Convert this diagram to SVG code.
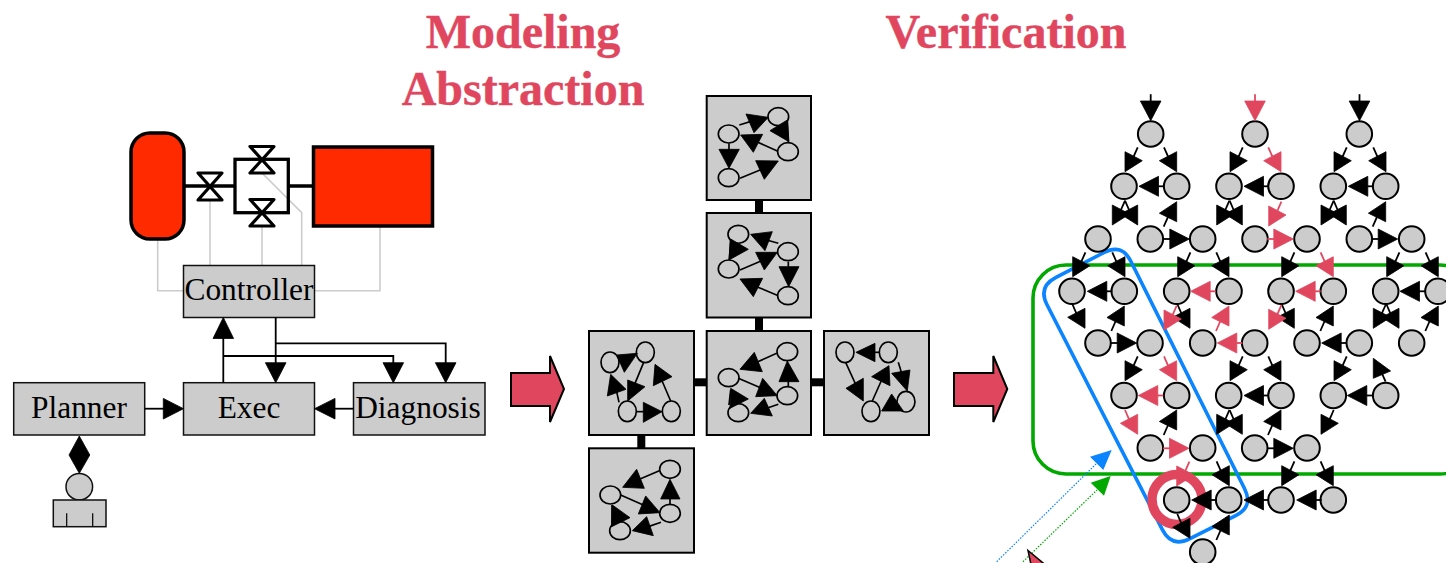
<svg xmlns="http://www.w3.org/2000/svg" width="1446" height="563" viewBox="0 0 1446 563">
<style>
text{font-family:"Liberation Serif","Times New Roman",serif;fill:#000}
.title{font-size:48px;font-weight:bold;fill:#e0475f;stroke:#e0475f;stroke-width:.4;text-anchor:middle}
.lbl{font-size:31.4px;text-anchor:middle}
.box{fill:#ccc;stroke:#111;stroke-width:1.5}
.wire{fill:none;stroke:#000;stroke-width:1.8}
.ctl{fill:none;stroke:#ccc;stroke-width:1.6}
.pipe{fill:none;stroke:#000;stroke-width:3.3}
.valve{fill:#fff;stroke:#000;stroke-width:3.2;stroke-linejoin:round}
.red{fill:#ff2a00;stroke:#000;stroke-width:3.5}
.head{fill:#000;stroke:#000;stroke-width:.8;stroke-linejoin:round}
.mod{fill:#ccc;stroke:#000;stroke-width:2}
.link{fill:#000;stroke:none}
.big{fill:#e0475f;stroke:#000;stroke-width:2;stroke-linejoin:miter}
.sg ellipse{fill:#ccc;stroke:#000;stroke-width:5}
.sg polygon{fill:#000;stroke:#000;stroke-width:2.5;stroke-linejoin:round}
.sg line{stroke:#000;stroke-width:5}
.n{fill:#ccc;stroke:#000;stroke-width:2}
.e{color:#000}
.r{color:#e0475f}
defs polygon{stroke:currentColor;stroke-width:.8;stroke-linejoin:round}
</style>
<defs>
<g id="dl"><line x1="8.6" y1="-15" x2="12.7" y2="-24.3" stroke="currentColor" stroke-width="1.8"/><polygon points="0,0 0,-20 17.3,-11" fill="currentColor"/></g>
<g id="dr"><line x1="-8.6" y1="-15" x2="-12.7" y2="-24.3" stroke="currentColor" stroke-width="1.8"/><polygon points="0,0 0,-20 -17.3,-11" fill="currentColor"/></g>
<g id="ur"><line x1="-8.6" y1="15" x2="-13" y2="25" stroke="currentColor" stroke-width="1.8"/><polygon points="0,0 0,20 -17.3,11.5" fill="currentColor"/></g>
<g id="ul"><line x1="8.6" y1="15" x2="12.3" y2="23.3" stroke="currentColor" stroke-width="1.8"/><polygon points="0,0 0,20 17.3,12.7" fill="currentColor"/></g>
<g id="le"><line x1="19" y1="0" x2="25" y2="0" stroke="currentColor" stroke-width="1.8"/><polygon points="0,0 19.5,-10 19.5,10" fill="currentColor"/></g>
<g id="ri"><line x1="-19" y1="0" x2="-26" y2="0" stroke="currentColor" stroke-width="1.8"/><polygon points="0,0 -19.5,-10 -19.5,10" fill="currentColor"/></g>
<g id="do"><line x1="0" y1="-19" x2="0" y2="-26.5" stroke="currentColor" stroke-width="1.8"/><polygon points="0,0 -10.3,-19.7 10.3,-19.7" fill="currentColor"/></g>
</defs>

<text class="title" x="523" y="48">Modeling</text>
<text class="title" x="523" y="105">Abstraction</text>
<text class="title" x="1006" y="48">Verification</text>

<g id="plant-wires">
<path class="ctl" d="M157.7,239V290.7H184"/>
<path class="ctl" d="M210,200V265"/>
<path class="ctl" d="M262,226V265"/>
<path class="ctl" d="M262,173L301.7,212.7V265"/>
<path class="ctl" d="M380,226V290.7H314"/>
<path class="pipe" d="M184,186H235M288.3,186H313"/>
</g>
<g id="pipe-loop"><rect class="pipe" x="235" y="159.3" width="53.3" height="53.4"/></g>
<g id="tank"><rect class="red" x="131" y="133" width="53" height="106" rx="19"/></g>
<g id="engine"><rect class="red" x="313.5" y="147" width="119" height="79"/></g>
<g id="valve1"><polygon class="valve" points="198,173 222,173 198,200 222,200"/></g>
<g id="valve2"><polygon class="valve" points="250,146.5 274,146.5 250,173 274,173"/></g>
<g id="valve3"><polygon class="valve" points="250,199.5 274,199.5 250,226 274,226"/></g>

<g id="controller"><rect class="box" x="183.5" y="265.5" width="131" height="52"/><text class="lbl" x="249" y="300">Controller</text></g>
<g id="exec"><rect class="box" x="183.5" y="382.7" width="131" height="52.3"/><text class="lbl" x="249" y="417.5">Exec</text></g>
<g id="planner"><rect class="box" x="13.7" y="382.7" width="131" height="52.3"/><text class="lbl" x="79" y="417.5">Planner</text></g>
<g id="diagnosis"><rect class="box" x="353.5" y="382.7" width="131.5" height="52.3"/><text class="lbl" x="418" y="417.5">Diagnosis</text></g>
<g id="operator">
<circle class="box" cx="79.3" cy="486.7" r="13.3"/>
<rect class="box" x="53.3" y="500" width="52.7" height="26.7"/>
<path class="wire" d="M66.7,513.3V526.7M92.7,513.3V526.7" style="stroke-width:1.2"/>
</g>

<g id="plant-connectors">
<path class="wire" d="M223.3,382.7V336"/><polygon class="head" points="223.3,317.5 213,338.5 233.6,338.5"/>
<path class="wire" d="M275.7,317.5V365"/><polygon class="head" points="275.7,382.7 265.4,362.7 286,362.7"/>
<path class="wire" d="M223.3,356H393.3V365"/><polygon class="head" points="393.3,382.7 383,362.7 403.6,362.7"/>
<path class="wire" d="M275.7,343.3H445.7V365"/><polygon class="head" points="445.7,382.7 435.4,362.7 456,362.7"/>
<path class="wire" d="M144.7,408.7H165"/><polygon class="head" points="183.5,408.7 163.3,398.4 163.3,419"/>
<path class="wire" d="M353.5,408.7H333"/><polygon class="head" points="314.5,408.7 335,398.4 335,419"/>
<polygon class="head" points="79.3,436 89.8,455 79.3,473.3 69,455"/>
</g>

<g id="big-arrow-1"><polygon class="big" points="511,373 550,373 550,356 564,389 550,422 550,406 511,406"/></g>
<g id="big-arrow-2"><polygon class="big" points="954,373 993.3,373 993.3,356 1007.3,389 993.3,422 993.3,406 954,406"/></g>

<g id="module-links">
<rect class="link" x="755" y="200" width="8" height="13"/>
<rect class="link" x="755" y="317" width="8" height="14"/>
<rect class="link" x="694" y="378.3" width="13" height="8"/>
<rect class="link" x="811" y="378.3" width="13" height="8"/>
<rect class="link" x="637.3" y="435" width="8" height="13"/>
</g>

<g id="module-top"><rect class="mod" x="706.7" y="96" width="104.3" height="104"/>
<g class="sg" transform="translate(580,90) scale(.3333)">
<line x1="478" y1="105" x2="520" y2="92"/><line x1="622" y1="92" x2="625" y2="158"/><line x1="530" y1="155" x2="592" y2="183"/><line x1="447" y1="160" x2="447" y2="185"/><line x1="480" y1="265" x2="560" y2="232"/>
<ellipse cx="446" cy="132" rx="31" ry="27"/><ellipse cx="595" cy="80" rx="31" ry="27"/><ellipse cx="624" cy="185" rx="31" ry="27"/><ellipse cx="446" cy="263" rx="31" ry="27"/>
<polygon points="565,82 498,72 522,128"/><polygon points="622,90 570,122 627,155"/><polygon points="520,187 482,135 548,133"/><polygon points="447,235 417,178 478,178"/><polygon points="595,213 527,212 553,268"/>
</g></g>

<g id="module-upper"><rect class="mod" x="706.7" y="213" width="104.3" height="104.5"/>
<g class="sg" transform="translate(580,90) scale(.3333)">
<line x1="595" y1="460" x2="560" y2="450"/><line x1="448" y1="510" x2="452" y2="447"/><line x1="480" y1="540" x2="545" y2="512"/><line x1="625" y1="515" x2="625" y2="535"/><line x1="595" y1="617" x2="530" y2="590"/>
<ellipse cx="475" cy="433" rx="31" ry="27"/><ellipse cx="624" cy="485" rx="31" ry="27"/><ellipse cx="446" cy="537" rx="31" ry="27"/><ellipse cx="624" cy="617" rx="31" ry="27"/>
<polygon points="512,433 577,425 555,482"/><polygon points="452,447 505,478 447,510"/><polygon points="592,487 527,487 553,540"/><polygon points="626,590 597,530 657,530"/><polygon points="480,567 548,565 520,620"/>
</g></g>

<g id="module-left"><rect class="mod" x="589" y="331" width="105" height="104"/>
<g class="sg" transform="translate(580,325) scale(.3333)">
<line x1="117" y1="232" x2="110" y2="200"/><line x1="192" y1="110" x2="165" y2="175"/><line x1="170" y1="260" x2="195" y2="260"/><line x1="272" y1="228" x2="245" y2="165"/>
<ellipse cx="90" cy="112" rx="27" ry="31"/><ellipse cx="196" cy="82" rx="27" ry="31"/><ellipse cx="142" cy="259" rx="27" ry="31"/><ellipse cx="274" cy="259" rx="27" ry="31"/>
<polygon points="110,90 172,85 133,142"/><polygon points="92,148 82,213 138,193"/><polygon points="143,165 195,185 143,228"/><polygon points="246,260 190,232 190,292"/><polygon points="225,118 220,182 276,155"/>
</g></g>

<g id="module-center"><rect class="mod" x="706.7" y="331" width="104.3" height="104"/>
<g class="sg" transform="translate(580,325) scale(.3333)">
<line x1="590" y1="85" x2="530" y2="112"/><line x1="625" y1="185" x2="625" y2="165"/><line x1="475" y1="160" x2="545" y2="190"/><line x1="595" y1="238" x2="560" y2="250"/><line x1="447" y1="240" x2="452" y2="195"/>
<ellipse cx="446" cy="158" rx="31" ry="27"/><ellipse cx="622" cy="80" rx="31" ry="27"/><ellipse cx="622" cy="212" rx="31" ry="27"/><ellipse cx="475" cy="263" rx="31" ry="27"/>
<polygon points="480,133 523,82 547,140"/><polygon points="622,108 597,170 657,170"/><polygon points="592,212 548,160 527,215"/><polygon points="512,265 577,273 553,220"/><polygon points="452,190 505,222 450,250"/>
</g></g>

<g id="module-right"><rect class="mod" x="824" y="331" width="105" height="104"/>
<g class="sg" transform="translate(580,325) scale(.3333)">
<line x1="900" y1="82" x2="880" y2="82"/><line x1="797" y1="112" x2="828" y2="180"/><line x1="877" y1="228" x2="905" y2="165"/><line x1="955" y1="112" x2="965" y2="145"/>
<ellipse cx="795" cy="82" rx="27" ry="31"/><ellipse cx="925" cy="82" rx="27" ry="31"/><ellipse cx="978" cy="230" rx="27" ry="31"/><ellipse cx="873" cy="259" rx="27" ry="31"/>
<polygon points="828,82 885,55 885,110"/><polygon points="850,228 798,190 850,160"/><polygon points="927,122 875,155 930,182"/><polygon points="982,198 935,145 990,135"/><polygon points="905,258 935,207 970,258"/>
</g></g>

<g id="module-bottom"><rect class="mod" x="589" y="448.3" width="105" height="104.4"/>
<g class="sg" transform="translate(580,325) scale(.3333)">
<line x1="238" y1="437" x2="180" y2="462"/><line x1="270" y1="540" x2="270" y2="515"/><line x1="122" y1="510" x2="190" y2="540"/><line x1="243" y1="592" x2="205" y2="605"/><line x1="96" y1="540" x2="96" y2="600"/>
<ellipse cx="91" cy="510" rx="31" ry="27"/><ellipse cx="270" cy="433" rx="31" ry="27"/><ellipse cx="270" cy="565" rx="31" ry="27"/><ellipse cx="120" cy="617" rx="31" ry="27"/>
<polygon points="128,487 170,433 193,490"/><polygon points="270,463 242,522 300,522"/><polygon points="240,563 197,513 175,567"/><polygon points="157,617 220,632 200,575"/><polygon points="97,540 150,578 95,605"/>
</g></g>

<g id="region-green"><rect x="1033" y="265" width="440" height="209" rx="33" fill="none" stroke="#00a800" stroke-width="3.6"/></g>
<g id="region-blue"><path d="M1104.1,252.5Q1121.8,243.3 1130.8,261.2L1244.6,488.8Q1253.6,506.7 1235.7,515.6L1189.5,538.8Q1171.6,547.7 1162.5,529.9L1047,304.7Q1037.9,286.9 1055.6,277.7Z" fill="none" stroke="#0a84ff" stroke-width="3.6"/></g>
<g id="focus-ring"><circle cx="1177" cy="499.5" r="25" fill="none" stroke="#e0475f" stroke-width="9.5"/></g>

<g id="s0"><circle class="n" cx="1150.7" cy="134" r="12.8"/></g>
<g id="s1"><circle class="n" cx="1255" cy="134" r="12.8"/></g>
<g id="s2"><circle class="n" cx="1359.3" cy="134" r="12.8"/></g>
<g id="s3"><circle class="n" cx="1124" cy="186.3" r="12.8"/></g>
<g id="s4"><circle class="n" cx="1176.7" cy="186.3" r="12.8"/></g>
<g id="s5"><circle class="n" cx="1229" cy="186.3" r="12.8"/></g>
<g id="s6"><circle class="n" cx="1281" cy="186.3" r="12.8"/></g>
<g id="s7"><circle class="n" cx="1333.3" cy="186.3" r="12.8"/></g>
<g id="s8"><circle class="n" cx="1385.7" cy="186.3" r="12.8"/></g>
<g id="s9"><circle class="n" cx="1098" cy="239" r="12.8"/></g>
<g id="s10"><circle class="n" cx="1150.3" cy="239" r="12.8"/></g>
<g id="s11"><circle class="n" cx="1202.7" cy="239" r="12.8"/></g>
<g id="s12"><circle class="n" cx="1255" cy="239" r="12.8"/></g>
<g id="s13"><circle class="n" cx="1307" cy="239" r="12.8"/></g>
<g id="s14"><circle class="n" cx="1359.3" cy="239" r="12.8"/></g>
<g id="s15"><circle class="n" cx="1411.7" cy="239" r="12.8"/></g>
<g id="s16"><circle class="n" cx="1072" cy="291.3" r="12.8"/></g>
<g id="s17"><circle class="n" cx="1124.3" cy="291.3" r="12.8"/></g>
<g id="s18"><circle class="n" cx="1176.7" cy="291.3" r="12.8"/></g>
<g id="s19"><circle class="n" cx="1229" cy="291.3" r="12.8"/></g>
<g id="s20"><circle class="n" cx="1281" cy="291.3" r="12.8"/></g>
<g id="s21"><circle class="n" cx="1333.3" cy="291.3" r="12.8"/></g>
<g id="s22"><circle class="n" cx="1385.7" cy="291.3" r="12.8"/></g>
<g id="s23"><circle class="n" cx="1438" cy="291.3" r="12.8"/></g>
<g id="s24"><circle class="n" cx="1098" cy="343" r="12.8"/></g>
<g id="s25"><circle class="n" cx="1150" cy="343" r="12.8"/></g>
<g id="s26"><circle class="n" cx="1202.7" cy="343" r="12.8"/></g>
<g id="s27"><circle class="n" cx="1254.7" cy="343" r="12.8"/></g>
<g id="s28"><circle class="n" cx="1307" cy="343" r="12.8"/></g>
<g id="s29"><circle class="n" cx="1359.3" cy="343" r="12.8"/></g>
<g id="s30"><circle class="n" cx="1411.7" cy="343" r="12.8"/></g>
<g id="s31"><circle class="n" cx="1124" cy="395.5" r="12.8"/></g>
<g id="s32"><circle class="n" cx="1176.7" cy="395.5" r="12.8"/></g>
<g id="s33"><circle class="n" cx="1228.7" cy="395.5" r="12.8"/></g>
<g id="s34"><circle class="n" cx="1281" cy="395.5" r="12.8"/></g>
<g id="s35"><circle class="n" cx="1333.3" cy="395.5" r="12.8"/></g>
<g id="s36"><circle class="n" cx="1385.7" cy="395.5" r="12.8"/></g>
<g id="s37"><circle class="n" cx="1150.3" cy="448" r="12.8"/></g>
<g id="s38"><circle class="n" cx="1202.7" cy="448" r="12.8"/></g>
<g id="s39"><circle class="n" cx="1254.7" cy="448" r="12.8"/></g>
<g id="s40"><circle class="n" cx="1307" cy="448" r="12.8"/></g>
<g id="s41"><circle class="n" cx="1176.7" cy="500" r="12.8"/></g>
<g id="s42"><circle class="n" cx="1228.7" cy="500" r="12.8"/></g>
<g id="s43"><circle class="n" cx="1281" cy="500" r="12.8"/></g>
<g id="s44"><circle class="n" cx="1333.3" cy="500" r="12.8"/></g>
<g id="s45"><circle class="n" cx="1202.7" cy="552" r="12.8"/></g>

<g id="lattice-connectors" class="e">
<use href="#do" x="1150.7" y="120.7"/><use href="#do" x="1255" y="120.7" class="r"/><use href="#do" x="1359.5" y="120.7"/>
<use href="#dl" x="1125" y="171.7"/><use href="#dr" x="1176.7" y="171.7"/>
<use href="#dl" x="1230" y="171.7"/><use href="#dr" x="1281" y="171.7" class="r"/>
<use href="#dl" x="1334" y="171.7"/><use href="#dr" x="1386" y="171.7"/>
<use href="#le" x="1139" y="186.3"/><use href="#le" x="1244" y="186.3"/><use href="#le" x="1348.3" y="186.3"/>
<use href="#dl" x="1112.3" y="225"/><use href="#dr" x="1137.7" y="225"/>
<use href="#dl" x="1216.7" y="225"/><use href="#dr" x="1242.3" y="225"/>
<use href="#dl" x="1321" y="225"/><use href="#dr" x="1346.3" y="225"/>
<use href="#ur" x="1176.7" y="201.7"/><use href="#ur" x="1385.7" y="201.7"/>
<use href="#dl" x="1268.7" y="226" class="r"/>
<use href="#ri" x="1189.3" y="239"/><use href="#ri" x="1293.3" y="239" class="r"/><use href="#ri" x="1397.7" y="239"/>
<use href="#dl" x="1072.7" y="276.7"/><use href="#dr" x="1125" y="276.7"/>
<use href="#dl" x="1177.7" y="276.7"/><use href="#dr" x="1229" y="276.7"/>
<use href="#dl" x="1281.7" y="276.7"/><use href="#dr" x="1333.3" y="276.7" class="r"/>
<use href="#dl" x="1386.7" y="276.7"/><use href="#dr" x="1438.3" y="276.7"/>
<use href="#le" x="1087.3" y="291.3"/><use href="#le" x="1190.7" y="291.3" class="r"/><use href="#le" x="1295.7" y="291.3" class="r"/><use href="#le" x="1400" y="291.3"/>
<use href="#dr" x="1085" y="328.3"/><use href="#ur" x="1124.3" y="306"/>
<use href="#dr" x="1190" y="328.3"/><use href="#dl" x="1164" y="330" class="r"/>
<use href="#ur" x="1229" y="306" class="r"/>
<use href="#dr" x="1294.3" y="328.3"/><use href="#dl" x="1268.7" y="329.3" class="r"/>
<use href="#ur" x="1333.3" y="306"/>
<use href="#dl" x="1373.3" y="328.3"/><use href="#dr" x="1399" y="328.3"/>
<use href="#ur" x="1438.3" y="306"/>
<use href="#ri" x="1136.7" y="343"/><use href="#le" x="1217.3" y="343" class="r"/><use href="#le" x="1321.7" y="343"/>
<use href="#dl" x="1125" y="380.7"/><use href="#dr" x="1176.7" y="380.7" class="r"/>
<use href="#dl" x="1230" y="380.7"/><use href="#dr" x="1281" y="380.7"/>
<use href="#dl" x="1334" y="380.7"/><use href="#ul" x="1373.3" y="358.3"/>
<use href="#le" x="1138.3" y="395.5" class="r"/><use href="#le" x="1244" y="395.5"/><use href="#le" x="1347.3" y="395.5"/>
<use href="#dr" x="1137.7" y="434.3" class="r"/><use href="#ur" x="1176.7" y="410"/>
<use href="#dl" x="1216.7" y="434.3"/><use href="#dr" x="1242.3" y="434.3"/>
<use href="#ur" x="1281" y="410"/><use href="#dl" x="1321" y="434.3"/>
<use href="#ri" x="1189" y="448.3" class="r"/><use href="#ri" x="1293.3" y="448.3"/>
<use href="#dl" x="1176.7" y="486" class="r"/><use href="#dr" x="1229.3" y="485.7"/>
<use href="#dl" x="1281.7" y="485.7"/><use href="#dr" x="1333.3" y="485.7"/>
<use href="#le" x="1191.7" y="500"/><use href="#le" x="1244" y="500"/><use href="#le" x="1296.7" y="500"/>
<use href="#dr" x="1190" y="538.3"/><use href="#ur" x="1229.3" y="515"/>
</g>

<g id="pointers">
<line x1="996.7" y1="561.7" x2="1096" y2="464" stroke="#0a84ff" stroke-width="1.2" stroke-dasharray="1.5 1.5"/>
<polygon points="1090,456.7 1111.7,450 1103.3,470" fill="#0a84ff"/>
<line x1="1023" y1="561.7" x2="1097" y2="490" stroke="#00a800" stroke-width="1.2" stroke-dasharray="1.5 1.5"/>
<polygon points="1090.7,482.7 1110.7,476 1104,495.7" fill="#00a800"/>
<polygon points="1028,550.5 1048,567 1033,574" fill="#e0475f" stroke="#000" stroke-width="1.5"/>
</g>
</svg>
